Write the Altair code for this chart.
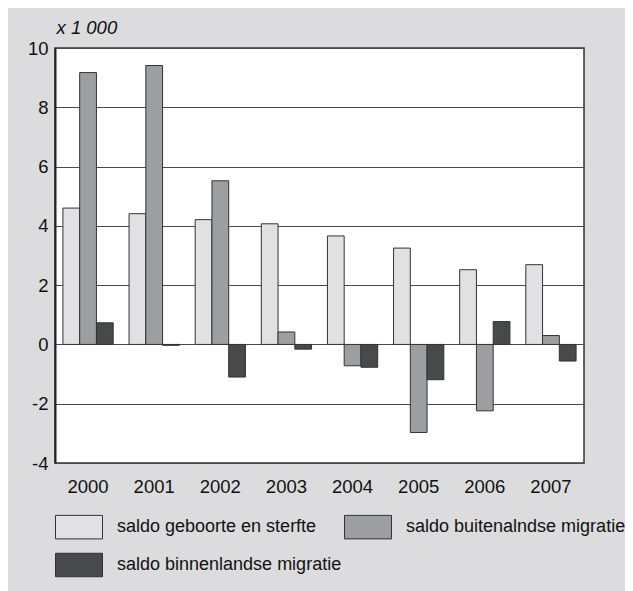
import altair as alt
import pandas as pd

years = ["2000", "2001", "2002", "2003", "2004", "2005", "2006", "2007"]
series = ["saldo geboorte en sterfte", "saldo buitenalndse migratie", "saldo binnenlandse migratie"]
geboorte = [4.60, 4.41, 4.21, 4.07, 3.66, 3.25, 2.52, 2.69]
buitenland = [9.17, 9.41, 5.52, 0.42, -0.72, -2.97, -2.24, 0.30]
binnenland = [0.73, -0.03, -1.10, -0.16, -0.77, -1.19, 0.77, -0.56]
colors = ["#e1e1e3", "#9d9ea1", "#48494b"]
y_ticks = [-4, -2, 0, 2, 4, 6, 8, 10]

rows = []
for s, vals in zip(series, [geboorte, buitenland, binnenland]):
    for yr, v in zip(years, vals):
        rows.append({"jaar": yr, "reeks": s, "waarde": v})
df = pd.DataFrame(rows)

FONT = "Liberation Sans"
FS = 18.5

chart = alt.Chart(df).mark_bar(stroke="#333333", strokeWidth=1).encode(
    x=alt.X("jaar:N", sort=years,
            scale=alt.Scale(paddingInner=0.24, paddingOuter=0.12),
            axis=alt.Axis(title=None, labelAngle=0, domain=False, ticks=False,
                          labelPadding=14, labelFontSize=FS, labelFont=FONT,
                          labelColor="#111111")),
    xOffset=alt.XOffset("reeks:N", sort=series),
    y=alt.Y("waarde:Q", scale=alt.Scale(domain=[-4, 10], nice=False),
            axis=alt.Axis(values=y_ticks, title="x 1 000", titleAngle=0,
                          titleAlign="left", titleX=1, titleY=-15,
                          titleBaseline="alphabetic", titleFontStyle="italic",
                          titleFontWeight="normal", titleFontSize=FS,
                          titleFont=FONT, titleColor="#111111",
                          labelExpr="replace(datum.label, '\u2212', '-')",
                          ticks=False, labelPadding=7, labelFontSize=FS,
                          labelFont=FONT, labelColor="#111111",
                          domainColor="#222222", domainWidth=2,
                          gridColor="#4a4a4a", gridWidth=1.2)),
    color=alt.Color("reeks:N", sort=series,
                    scale=alt.Scale(domain=series, range=colors),
                    legend=alt.Legend(title=None, orient="none", legendX=0, legendY=455,
                                      columns=2, direction="horizontal",
                                      symbolType="M-1,-0.5H1V0.5H-1Z", symbolSize=2209,
                                      symbolStrokeColor="#333333", symbolStrokeWidth=1,
                                      labelFontSize=18, labelFont=FONT, labelColor="#111111",
                                      labelOffset=14, columnPadding=0, rowPadding=0,
                                      labelLimit=400, padding=0)),
).properties(
    width=529, height=415,
    background="#dcdcde",
    padding={"left": 47, "top": 40, "right": 41, "bottom": 128},
    autosize=alt.AutoSizeParams(type="none"),
).configure_view(
    fill="white", stroke="#333333", strokeWidth=1.5,
)

chart.save("out.html", embed_options={"renderer": "svg", "actions": False})
